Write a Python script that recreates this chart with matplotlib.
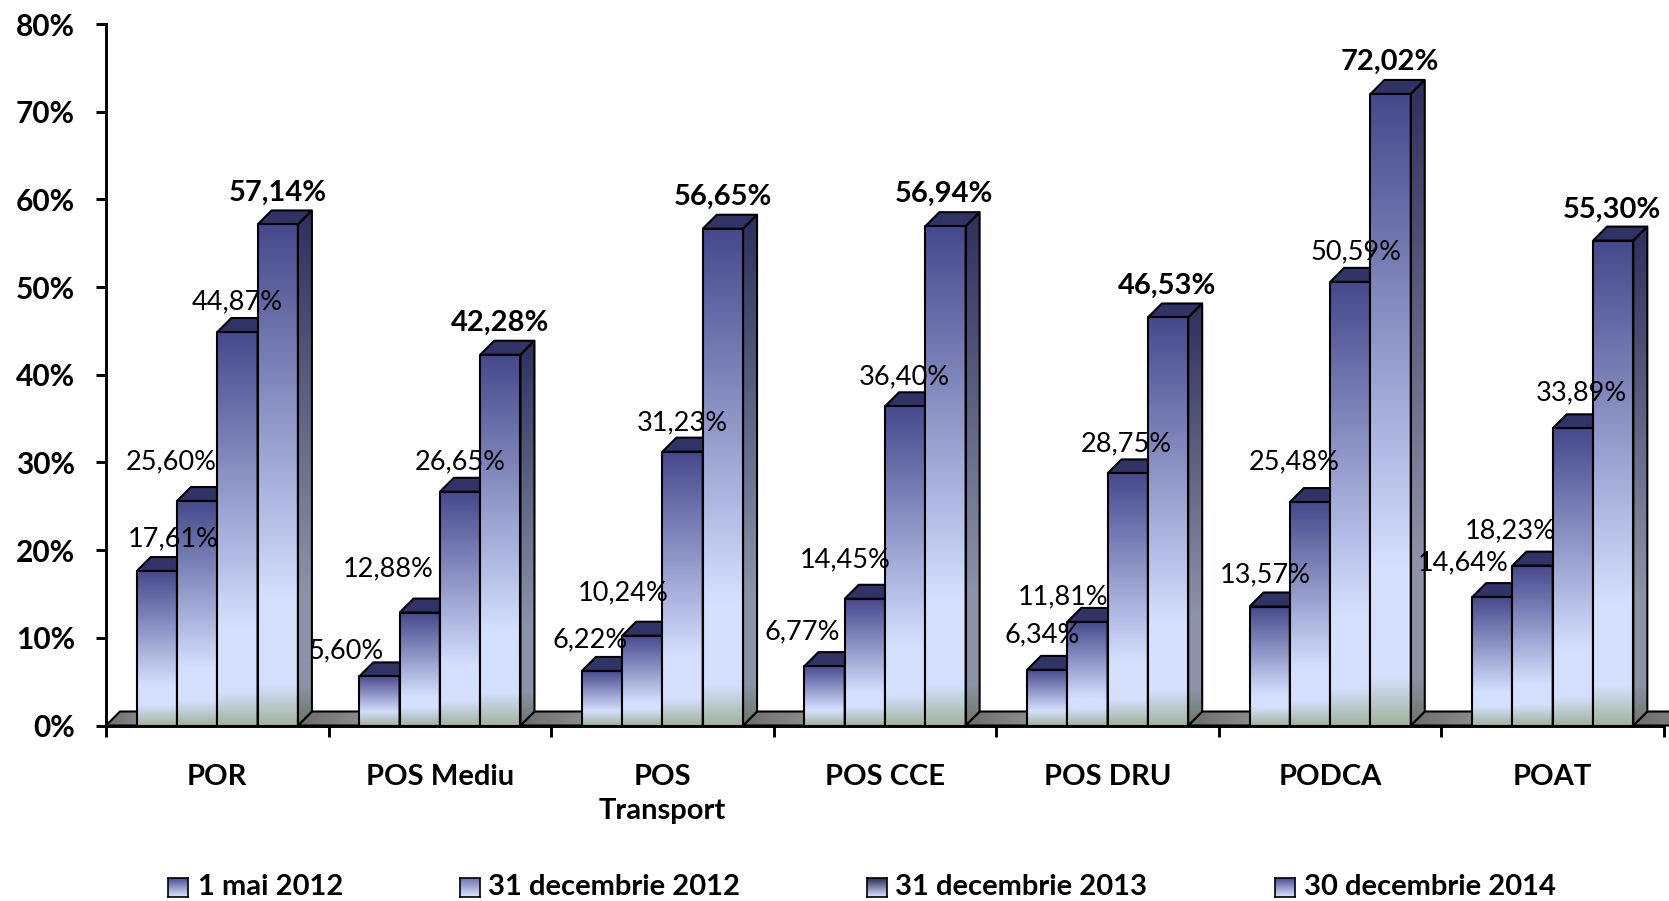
# bars with a fake 3D look, gradient images clipped to the faces
import numpy as np
import matplotlib
matplotlib.use('Agg')
import matplotlib.pyplot as plt
from matplotlib.colors import to_rgb
from matplotlib.patches import Polygon, Rectangle

plt.rcParams['font.family'] = ['Lato', 'DejaVu Sans']

categories = ['POR', 'POS Mediu', 'POS\nTransport', 'POS CCE', 'POS DRU', 'PODCA', 'POAT']
series_names = ['1 mai 2012', '31 decembrie 2012', '31 decembrie 2013', '30 decembrie 2014']
mai_2012 = [17.61, 5.60, 6.22, 6.77, 6.34, 13.57, 14.64]
dec_2012 = [25.60, 12.88, 10.24, 14.45, 11.81, 25.48, 18.23]
dec_2013 = [44.87, 26.65, 31.23, 36.40, 28.75, 50.59, 33.89]
dec_2014 = [57.14, 42.28, 56.65, 56.94, 46.53, 72.02, 55.30]
series = [mai_2012, dec_2012, dec_2013, dec_2014]

# hand placed label offsets from the top centre of each bar, in pixels
shift_x = [[15, -31, -11, -21, -5, -4.5, -27],
           [-24, -30, -18, -18, -23, -15, -21],
           [0, 0, 0, -1, -1, 5, 8],
           [0, 0, 0, -1, -1, -1, -1]]
shift_y = [[30, 24, 29, 32, 33, 30, 32],
           [37, 41, 40, 37, 24, 38, 33],
           [28, 28, 27.5, 28, 28, 28, 33],
           [30, 29.5, 30, 30, 30, 30, 29]]

W, H = 1669, 901
AX_L, AX_R, AX_TOP, AX_BOT = 106, 1664, 24, 725.5
BAR_PX = 40.3
FIRST_PX = 30.7
DEPTH_PX = 14

DARK = np.array(to_rgb('#45488c'))
LIGHT = np.array(to_rgb('#d5e0ff'))
GREEN = np.array(to_rgb('#a3b5a0'))

fig = plt.figure(figsize=(W / 100, H / 100), dpi=100)
ax = fig.add_axes([AX_L / W, 1 - AX_BOT / H, (AX_R - AX_L) / W, (AX_BOT - AX_TOP) / H])
ax.set_xlim(0, 7)
ax.set_ylim(0, 80)

group_px = (AX_R - AX_L) / 7
bar_w = BAR_PX / group_px
first = FIRST_PX / group_px
dx = DEPTH_PX / group_px
dy = DEPTH_PX * 80 / (AX_BOT - AX_TOP)


def bar_colors(value, n=200):
    h_px = value * (AX_BOT - AX_TOP) / 80
    green_px = 11 + 0.057 * h_px
    f = np.linspace(0, 1, n)
    start = 1 - green_px / h_px
    out = np.zeros((n, 3))
    for c in range(3):
        out[:, c] = np.interp(f, [0, 0.75, start, 1],
                              [DARK[c], LIGHT[c], LIGHT[c], GREEN[c]])
    return out[:, None, :]


def face(colors, extent, outline, z):
    im = ax.imshow(colors, extent=extent, aspect='auto', origin='upper',
                   zorder=z, interpolation='bilinear')
    poly = Polygon(outline, closed=True, fc='none', ec='black', lw=1.5, zorder=z + 0.1,
                   joinstyle='round')
    ax.add_patch(poly)
    im.set_clip_path(poly)
    return poly


# floor, one grey piece for each gap between groups
gaps = [(0, first)] + [(i + first + 4 * bar_w, i + 1 + first) for i in range(6)]
gaps.append((6 + first + 4 * bar_w, 7 + 3 * dx))
for a, b in gaps:
    pts = [(a, 0), (a + dx, dy), (b + dx, dy), (b, 0)]
    grad = np.linspace(to_rgb('#6c6c6c'), to_rgb('#929292'), 50)[None, :, :]
    poly = Polygon(pts, closed=True, fc='none', ec='black', lw=1.5, zorder=1, clip_on=False)
    ax.add_patch(poly)
    im = ax.imshow(grad, extent=(a, b + dx, 0, dy), aspect='auto', zorder=0.9)
    im.set_clip_path(poly)
    im.set_clip_box(fig.bbox)

for s, values in enumerate(series):
    for g, v in enumerate(values):
        x0 = g + first + s * bar_w
        x1 = x0 + bar_w
        cols = bar_colors(v)
        z = 2 + g + s * 0.2
        # side, then top, then front
        face(cols * 0.66, (x1, x1 + dx, 0, v + dy),
             [(x1, 0), (x1 + dx, dy), (x1 + dx, v + dy), (x1, v)], z)
        ax.add_patch(Polygon([(x0, v), (x0 + dx, v + dy), (x1 + dx, v + dy), (x1, v)],
                             closed=True, fc='#303366', ec='black', lw=1.5, zorder=z + 0.02))
        face(cols, (x0, x1, 0, v), [(x0, 0), (x0, v), (x1, v), (x1, 0)], z + 0.05)

for s, values in enumerate(series):
    for g, v in enumerate(values):
        xc = g + first + (s + 0.5) * bar_w
        last = s == 3
        ax.annotate(f'{v:.2f}%'.replace('.', ','), (xc, v),
                    xytext=(shift_x[s][g] * 1.0644, shift_y[s][g] * 1.0644),
                    textcoords='offset pixels', ha='center', va='center',
                    fontsize=21 if last else 19.5, fontweight='bold' if last else 'normal',
                    color='black', zorder=30, annotation_clip=False)

ax.set_xlim(0, 7)
ax.set_ylim(0, 80)

for side in ['top', 'right']:
    ax.spines[side].set_visible(False)
for side in ['left', 'bottom']:
    ax.spines[side].set_linewidth(2.1)
    ax.spines[side].set_zorder(20)

ax.set_yticks(np.arange(0, 81, 10))
ax.set_yticklabels([f'{t}%' for t in range(0, 81, 10)], fontsize=21.5, fontweight='bold')
ax.tick_params(axis='y', length=7.5, width=2.1, pad=15)
ax.set_xticks(np.arange(0, 8))
ax.set_xticklabels([])
ax.tick_params(axis='x', which='major', length=8, width=2.1)
ax.set_xticks(np.arange(7) + 0.5, minor=True)
ax.set_xticklabels(categories, minor=True, fontsize=21, fontweight='bold', linespacing=1.35)
ax.tick_params(axis='x', which='minor', length=0, pad=28)

# legend drawn by hand, the gaps are not even
legend_box_x = [168, 460, 867, 1275]
legend_text_x = [198, 488, 895, 1304]
legend_top = ['#4a4f96', '#6f75b5', '#2c2d58', '#4a4f96']
for name, bx, tx, top in zip(series_names, legend_box_x, legend_text_x, legend_top):
    lax = fig.add_axes([bx / W, 1 - 897 / H, 20 / W, 19 / H])
    grad = np.linspace(to_rgb(top), to_rgb('#dbe4ff'), 30)[:, None, :]
    lax.imshow(grad, aspect='auto', interpolation='bilinear')
    lax.set_xticks([])
    lax.set_yticks([])
    for sp in lax.spines.values():
        sp.set_linewidth(1.2)
    fig.text(tx / W, 1 - 887 / H, name, fontsize=21, fontweight='bold', va='center', ha='left')

fig.savefig('out.png', dpi=100)
